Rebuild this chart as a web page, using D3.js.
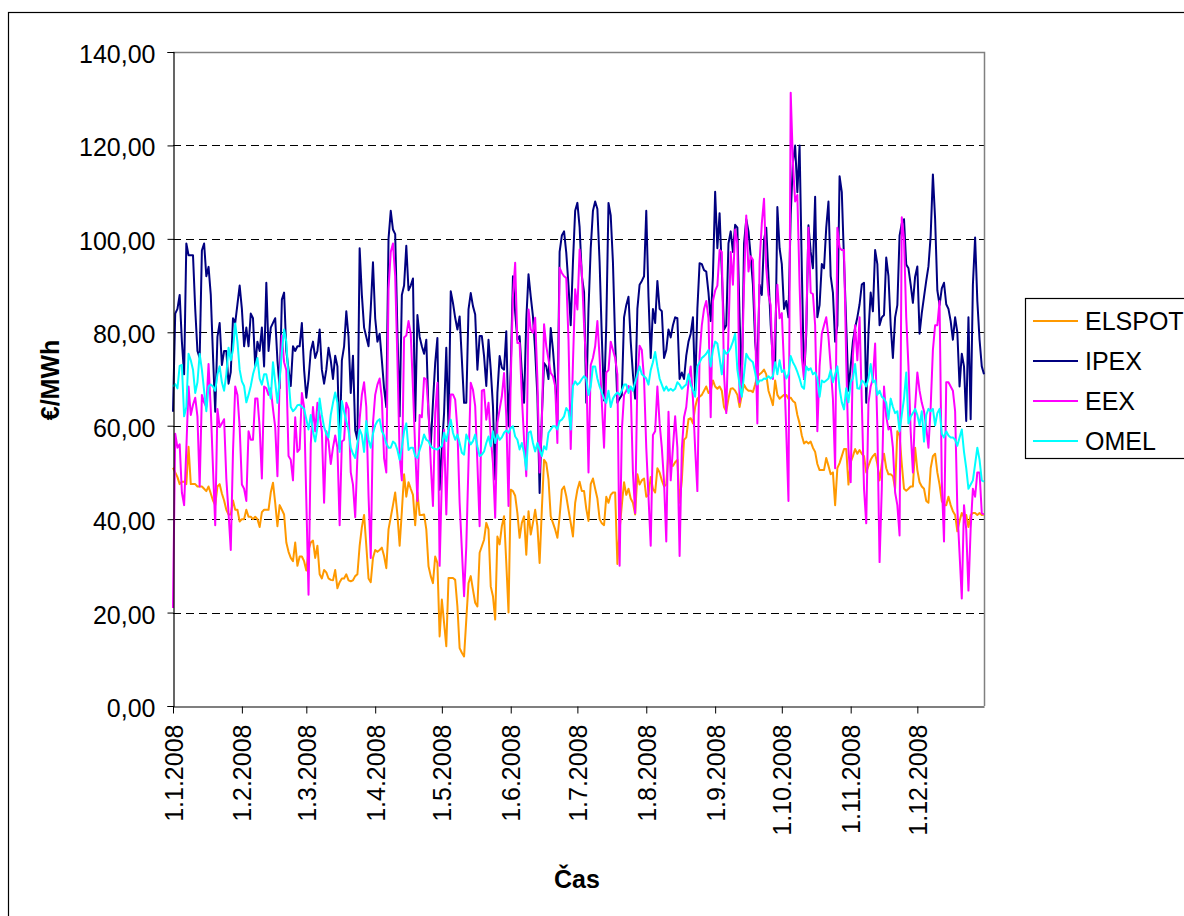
<!DOCTYPE html>
<html>
<head>
<meta charset="utf-8">
<script src="https://cdn.jsdelivr.net/npm/d3@7"></script>
<style>
  body { margin: 0; background: #fff; }
  svg text { font-family: "Liberation Sans", Arial, sans-serif; fill: #000; }
</style>
</head>
<body>
<svg id="chart" width="1184" height="916"></svg>
<script>
// Daily spot prices 2008 (EUR/MWh), one value per day from 1.1.2008 to 31.12.2008
const seriesNames = ["ELSPOT", "IPEX", "EEX", "OMEL"];
const seriesColors = ["#FF9900", "#000080", "#FF00FF", "#00FFFF"];
const yTickValues = [0, 20, 40, 60, 80, 100, 120, 140];
const monthTickLabels = ["1.1.2008", "1.2.2008", "1.3.2008", "1.4.2008", "1.5.2008", "1.6.2008",
  "1.7.2008", "1.8.2008", "1.9.2008", "1.10.2008", "1.11.2008", "1.12.2008"];

const elspot = [
  51, 50, 49, 47.5, 48, 48, 47.5, 55.5, 47.5, 47.5,
  47.5, 47, 47, 47, 46.5, 46, 47, 45.5, 44, 43,
  47, 47.5, 45.5, 44, 42, 41, 41, 44, 42, 42,
  39.5, 40, 40, 42, 40.5, 40.5, 40, 40.5, 40, 38.3,
  41.5, 42, 42, 42, 45.7, 47.8, 43.5, 38.5, 43, 42,
  41, 35, 33, 31.7, 31, 35, 30, 32, 32, 31,
  29, 33.4, 35, 35.4, 31.7, 34.3, 28.2, 27.3, 29.1, 28.6,
  27.3, 27, 26.9, 29.1, 25.2, 26.5, 27.3, 27.3, 28.2, 26.9,
  26.7, 26.9, 27.8, 28.2, 34.3, 38.3, 40.9, 34.3, 27.3, 26.5,
  31.7, 33.4, 33, 33.4, 33.9, 32.1, 29.5, 37.8, 40.4, 43,
  45.7, 40.9, 34.3, 41.7, 49.6, 44.8, 47.9, 46.5, 45.2, 38.7,
  45.7, 40.9, 40.9, 41, 37.8, 29.9, 27.8, 26.3, 32, 30.6,
  14.9, 22.8, 17.8, 12.8, 27.4, 27.4, 27.4, 27, 21.3, 12.4,
  11.4, 10.6, 18.5, 26.3, 27.8, 24.9, 22.1, 21.3, 32.8, 34.2,
  35.6, 39.2, 37.8, 25.6, 23.5, 18.5, 36.3, 34.6, 38.5, 40.6,
  30.6, 20, 46.3, 46, 45, 41.3, 36, 39.2, 40.6, 32.4,
  41.7, 36.7, 39.2, 42, 38.5, 30.6, 42, 52.7, 52, 48.5,
  40.6, 39.2, 37.8, 36, 40.6, 46.3, 47, 44.9, 42, 39.2,
  36.3, 43.5, 46.3, 48, 46, 46, 42.2, 39.6, 47.5, 48.7,
  46.5, 44.4, 40, 39.1, 38.7, 44.8, 43.5, 45.2, 45.7, 45.7,
  30.4, 37.8, 43, 47.9, 45.2, 46.5, 44.4, 43.5, 41, 49.6,
  47.4, 48.3, 48.7, 44.8, 45.2, 49, 46.5, 45.7, 50.9, 50,
  48.3, 47, 47.4, 54.4, 51.8, 51.4, 52.2, 52.7, 43.5, 48.3,
  57, 57.5, 61.4, 61.6, 60.5, 64, 65.8, 66.2, 66.6, 67.5,
  68.4, 67, 67.5, 69.7, 68.4, 67.9, 68.4, 67.5, 64, 63.1,
  65.8, 67.9, 68, 67.5, 66.6, 64, 66.6, 68.8, 67.9, 67.5,
  67.5, 67.2, 68.8, 70.6, 71, 71.4, 72, 71, 67.5, 66,
  64.4, 69.7, 66.6, 65.8, 66.2, 66.6, 66.6, 65.8, 66, 65.3,
  64.9, 62.3, 60.5, 57.9, 56.2, 56.6, 56.2, 56.6, 55.3, 54.4,
  51.8, 50.5, 50.5, 50.5, 53.1, 51.4, 49.6, 50, 43, 50.9,
  52, 53.5, 55, 55, 47.4, 52.2, 53.5, 55, 54, 54.8,
  54, 53.5, 50, 51.4, 52.7, 53.5, 54, 51.8, 48.3, 51.8,
  54, 50.9, 49.6, 49.6, 49.2, 46.5, 58.8, 57.9, 51.8, 46.5,
  46.1, 46.5, 47, 47, 55.3, 50.5, 47.9, 47, 46.5, 43.9,
  43.5, 50.9, 53.5, 54, 50, 47.4, 43.9, 43, 43, 44.8,
  43, 41.7, 40.9, 37.4, 39.6, 41.3, 40.4, 40.9, 38.3, 40.9,
  41.3, 41.3, 40.9, 41.3, 40.9, 41
];

const ipex = [
  63, 84, 85, 88, 78, 71, 99, 96.5, 96.5, 96.5,
  85, 76, 74.5, 97.5, 99, 92, 94, 88, 75, 63,
  79, 82, 73, 76, 76, 69, 71.5, 83, 82, 86,
  90, 85, 77, 81, 77, 84, 83, 72.7, 78, 76,
  81, 72.7, 90.6, 76, 81, 82, 83, 74, 68, 87,
  88.5, 76, 72, 68.5, 77, 76, 77, 77, 82, 72,
  66, 70, 76, 78, 74.5, 76, 80.6, 72, 69, 72,
  76.7, 74, 70, 75, 72.7, 55, 74, 77, 84.5, 79,
  67, 75, 59, 57, 98, 88, 81, 79, 77, 85,
  95, 83, 78, 79.7, 74, 68, 64, 100, 106, 102,
  101, 80, 62, 88, 90, 98.5, 89, 90, 91.5, 61,
  83.7, 79, 77, 75.4, 78.4, 62.7, 55.6, 65, 73.4, 78.8,
  46.3, 55, 62.7, 76.7, 59.2, 88.8, 86.3, 83.1, 80.6, 83.4,
  74.2, 64.9, 64.9, 84.9, 88.4, 85.6, 83.8, 72, 79.2, 79.2,
  74.9, 68.5, 78.4, 72, 64.2, 48.5, 67, 74.9, 72.4, 72,
  80.2, 59.9, 72, 92, 84.2, 78.4, 79.2, 71.3, 64.9, 82.7,
  92.4, 87.7, 83.4, 76, 66.3, 45.6, 62, 73.4, 72.7, 70,
  80.9, 76.3, 70, 60.5, 97.2, 100.7, 101.6, 97, 90, 81.5,
  95, 106, 107.7, 102.5, 92, 88.6, 64.9, 85, 98, 106,
  108, 106.4, 95, 78.9, 65.4, 81.5, 107.7, 105, 95, 78,
  64.9, 65.8, 66.6, 83.2, 85.8, 87.6, 78, 71, 65.8, 85,
  90.2, 91, 92, 106, 87.6, 74.5, 85, 82, 91, 85,
  84.5, 74.5, 76.2, 80.6, 78.9, 81.5, 83.2, 83, 70, 71.4,
  70, 75, 78, 79.7, 83.2, 67.5, 85, 94.8, 94.6, 93.3,
  93, 88.5, 82.4, 92, 110.1, 98, 105.5, 93, 80.6, 81.5,
  99, 101.6, 97.2, 103, 102.4, 83.2, 67.5, 99, 104.2, 101.6,
  96.3, 90.2, 78, 72.7, 90.2, 88, 99.8, 102.4, 92, 81.5,
  74, 72.7, 106.8, 98, 94.6, 85, 86.7, 83.2, 105, 116.4,
  120, 110, 120, 93.7, 70, 79.7, 102.9, 97.2, 93.7, 109,
  83.2, 85.8, 94.6, 93.7, 102.4, 108, 92, 88.5, 78, 81.5,
  113.4, 110, 95.4, 81.5, 67.5, 72.7, 78, 81, 83.2, 86,
  90.2, 90.6, 64.9, 80, 88.5, 84.5, 97.6, 94.6, 81.5, 83.2,
  83.7, 96, 92, 81.5, 74.5, 83.2, 85.8, 100.7, 103.3, 104.2,
  94.5, 93.7, 90.2, 86.3, 91.9, 94.1, 79.7, 84.1, 87.6, 91,
  94.1, 100.7, 113.8, 104.2, 89, 85.8, 89.4, 90.6, 86, 85,
  82.4, 78.4, 83.2, 80, 68.4, 75.4, 72.7, 61, 83.2, 61.4,
  90.2, 100.3, 86.7, 78.4, 72.7, 71
];

const eex = [
  21, 58.3, 55.3, 56, 45.7, 43, 55, 68.4, 62.3, 64.5,
  66, 62, 47, 66.6, 65, 64, 73.2, 63.6, 50.9, 38.7,
  63.6, 59.7, 60.5, 61.4, 48.7, 41.3, 33.4, 54.4, 68.4, 66.6,
  59.7, 47.4, 46.5, 43.9, 58.8, 57, 57, 65.8, 65.8, 59.7,
  48.7, 68.4, 68, 66.6, 68, 63.6, 59.7, 49.2, 70, 79.3,
  73.6, 71.9, 53.5, 52.7, 48.3, 61.8, 54.4, 55, 67, 64,
  44, 23.8, 56, 64, 58.8, 64.9, 62.3, 58.8, 43.5, 58.8,
  56.6, 51.8, 55.3, 57.9, 55.3, 38.7, 56.6, 57, 64.9, 63.6,
  50, 47.4, 40.4, 53.5, 61.4, 66.6, 69.3, 64, 45, 31.7,
  60.5, 66.6, 68.8, 70.1, 65.8, 53, 50, 89.3, 97.2, 99,
  92, 74, 53.5, 48.3, 78.9, 79.3, 82.4, 79.7, 68, 55,
  43.9, 62.3, 61.8, 70.2, 69.9, 63, 52, 42.8, 62.7, 69.2,
  30, 48.5, 59.2, 41, 57.7, 66.7, 66.7, 65.6, 59.2, 43.5,
  33.5, 23.5, 34.2, 52, 69.2, 67.7, 64.2, 52, 38.5, 67.5,
  67.7, 61.3, 64.9, 57.7, 52, 40.3, 60.6, 63.5, 66.3, 71.3,
  62, 42.8, 69.9, 87.7, 94.9, 77.7, 77.7, 66.3, 57, 49.2,
  84.9, 80.6, 79.9, 83.1, 70, 50, 60.6, 81.7, 77, 74.2,
  71.3, 70.6, 68.5, 56.3, 93.8, 92.7, 92, 91.6, 78.4, 55,
  73.4, 89.2, 84.9, 97.7, 93, 81.5, 72.7, 50, 73, 74.5,
  77, 82.4, 74.5, 65, 55.3, 71.4, 71.9, 78, 76.2, 74.5,
  71, 30, 59, 66.6, 67.5, 68.5, 67.5, 50, 41.3, 70,
  77.1, 76.2, 70, 55.3, 44.8, 34.3, 58, 58.8, 68.4, 60.5,
  55.3, 48, 35.2, 63, 48.3, 55.3, 62, 55.3, 32.1, 55,
  61.8, 64, 69.3, 72.7, 65.8, 55, 46, 75, 81.5, 85,
  86.7, 83, 61.8, 86.7, 88.9, 90, 97.6, 97.2, 71, 62.7,
  80, 97.2, 90.2, 102, 99, 65, 71, 90.2, 105, 93,
  96.3, 95.5, 81.5, 60.5, 95, 103.3, 108.6, 93.7, 88, 85.8,
  70, 81.5, 90.2, 83, 84.1, 72.7, 58.8, 43.9, 131.3, 116.4,
  108, 109.4, 90.2, 74.5, 70, 81.5, 102.4, 88.5, 88.2, 81.5,
  58.8, 72.7, 79.7, 81.5, 83.2, 79, 72.7, 65.8, 50.9, 102.4,
  98.1, 97.6, 97.6, 73.6, 55, 47.9, 75, 81.5, 74, 83.2,
  65, 46.5, 39.1, 64.9, 68.4, 70.1, 77.6, 59.7, 30.8, 46.5,
  68.4, 62, 59.2, 59.7, 55.3, 45.7, 43, 36.5, 104.6, 100,
  83.2, 72.7, 58.8, 50, 64, 71.4, 67.5, 64.9, 63.1, 59.7,
  55.3, 64, 76.2, 81.5, 81.5, 86.7, 48.3, 35.2, 69.3, 69.3,
  68.4, 67.5, 63.1, 42.2, 32.6, 23, 43, 37.8, 24.7, 38,
  46.5, 44.8, 50, 50, 41.3, 41
];

const omel = [
  68.4, 68.9, 68, 72.8, 73, 62, 64, 75.4, 74, 72,
  67, 69.3, 75.4, 72, 67.5, 63.1, 68.4, 68.8, 68.4, 67.5,
  71, 72.7, 69.3, 67.5, 71, 76.7, 74, 76.2, 81.9, 78,
  72, 69.5, 68.5, 65, 66.6, 68.5, 71, 72.7, 74.5, 70.1,
  68.8, 71, 71, 68.4, 65.8, 73.6, 69.3, 64.9, 69.7, 75.8,
  80.6, 78, 70.1, 64, 63.1, 63.6, 64.4, 64.5, 64, 63.6,
  61.4, 59.2, 62.3, 58.8, 56.6, 59.7, 65.8, 62.3, 59.7, 58.3,
  57.5, 62.3, 64.9, 67.1, 64.9, 54.4, 65.3, 63, 61, 59,
  55.3, 54, 53.1, 56.2, 59.2, 58, 54.4, 61, 57, 55.3,
  58.3, 60.1, 61, 61.4, 58.8, 57.9, 56.2, 55.3, 55.3, 56.6,
  56.2, 54.8, 52.7, 55.3, 58.8, 60.5, 54.8, 55.3, 55.3, 53.5,
  53.1, 54.8, 56.2, 58.1, 57, 56.7, 55.6, 55.2, 55, 54.9,
  55.3, 55.6, 58.5, 56.7, 59.2, 61.3, 58.5, 57, 58.1, 56.3,
  54.2, 53.8, 58.1, 57, 56, 56.7, 58.1, 55.6, 53.5, 53.8,
  54.5, 56.3, 57.7, 55.6, 58.8, 56.3, 58.1, 57, 57.5, 58.5,
  59, 58.5, 59.5, 59.9, 57.7, 57, 54.9, 56.3, 54.2, 50.6,
  58.5, 58.8, 56.3, 54.5, 56.3, 54.9, 53.5, 55.6, 54.9, 58.5,
  59.2, 59.9, 59.9, 59.2, 61, 61.3, 62, 63.8, 63.1, 59.2,
  68.5, 69.5, 68.8, 69.2, 70, 70.6, 70.1, 66.6, 68.4, 72.7,
  72.7, 70.1, 68.4, 67.1, 65.8, 64.9, 67.5, 64, 65.8, 66.6,
  67.1, 66.6, 67.5, 68.8, 68.8, 67, 68.4, 67.5, 69.3, 71,
  72.7, 71, 70.6, 70.1, 68.8, 71.9, 73.6, 75.8, 72.7, 70.1,
  68.8, 67.5, 68.4, 67.5, 67.9, 67.5, 67.9, 69.3, 68.8, 67.9,
  68.4, 68.8, 71, 68.8, 67.5, 66.2, 72.7, 73.6, 74.5, 74.9,
  75.4, 76.2, 72.7, 76.2, 78, 77.6, 74.5, 71, 76.2, 75.4,
  75.8, 76.7, 78, 79.7, 72, 68.8, 66.2, 71, 75.4, 74.5,
  74, 73.6, 71.4, 68.8, 69.7, 69.7, 70.1, 70, 70.6, 70.1,
  70.6, 73.6, 71, 74, 71.5, 71.9, 70.1, 71, 74.9, 73.6,
  72.7, 71.5, 70.1, 68.4, 67.9, 72.7, 71.9, 72.3, 71, 71.4,
  70.1, 66.2, 69.7, 69.3, 69.7, 70.1, 71.9, 69.3, 71, 72.7,
  68, 65, 63.5, 68, 65, 69.3, 70.1, 73.2, 68, 67.9,
  69.7, 69.3, 68.4, 70.1, 73.2, 69.3, 69.7, 66.6, 67.5, 66.2,
  65.8, 64.9, 61.4, 65.8, 64, 62.7, 63.1, 58.8, 62.3, 65.8,
  71.4, 60.5, 61.9, 62.7, 63.6, 62.3, 60.1, 63.1, 56.6, 62.3,
  63.6, 63.1, 63.6, 60.1, 62.7, 63.6, 58.3, 57.5, 58.8, 57.9,
  57.5, 57.5, 57, 55.7, 57.5, 59.2, 54.4, 50.9, 46.5, 47.4,
  48.3, 51.8, 55.3, 52.7, 48.3, 48
];

const seriesValues = [elspot, ipex, eex, omel];

// ---- layout ----
const plot = { left: 173, top: 52, right: 984, bottom: 706 };
const svg = d3.select("#chart");
const fontSize = 25;

const firstDay = new Date(2008, 0, 1);
const lastDay = new Date(2008, 11, 31);
const days = d3.timeDay.range(firstDay, d3.timeDay.offset(lastDay, 1));

const x = d3.scaleTime().domain([firstDay, lastDay]).range([plot.left, plot.right]);
const y = d3.scaleLinear().domain([0, 140]).range([plot.bottom, plot.top]);

const parseLabel = d3.timeParse("%d.%m.%Y");
const monthTicks = monthTickLabels.map(parseLabel);

const czLocale = d3.formatLocale({ decimal: ",", thousands: " ", grouping: [3], currency: ["", " €"] });
const fmtY = czLocale.format(".2f");

// outer chart border
svg.append("rect")
  .attr("x", 8.5).attr("y", 12.5)
  .attr("width", 1300).attr("height", 1000)
  .attr("fill", "none").attr("stroke", "#000").attr("stroke-width", 1.2);

// dashed horizontal gridlines
svg.append("g").selectAll("line")
  .data(yTickValues.filter(v => v > 0 && v < 140))
  .join("line")
  .attr("x1", plot.left).attr("x2", plot.right)
  .attr("y1", d => Math.round(y(d)) + 0.5).attr("y2", d => Math.round(y(d)) + 0.5)
  .attr("stroke", "#000").attr("stroke-width", 1)
  .attr("stroke-dasharray", "8,5");

// plot area frame (top and right)
svg.append("path")
  .attr("d", `M${plot.left},${plot.top + 0.5}H${plot.right + 0.5}V${plot.bottom}`)
  .attr("fill", "none").attr("stroke", "#808080").attr("stroke-width", 1.5);

// series lines (later series drawn on top)
const line = d3.line()
  .x((d, i) => x(days[i]))
  .y(d => y(d));

svg.append("g").selectAll("path")
  .data(seriesValues)
  .join("path")
  .attr("d", d => line(d))
  .attr("fill", "none")
  .attr("stroke", (d, i) => seriesColors[i])
  .attr("stroke-width", 2)
  .attr("stroke-linejoin", "round");

// y axis
const yAxis = svg.append("g")
  .attr("transform", `translate(${plot.left + 0.5},0)`)
  .call(d3.axisLeft(y).tickValues(yTickValues).tickFormat(fmtY).tickSize(6).tickPadding(12));
yAxis.select(".domain").attr("stroke", "#000").attr("stroke-width", 1.2);
yAxis.selectAll(".tick line").attr("stroke", "#000");
yAxis.selectAll("text")
  .attr("font-size", fontSize)
  .attr("font-family", '"Liberation Sans", Arial, sans-serif')
  .attr("dy", "0.42em");

// x axis
const xAxis = svg.append("g")
  .attr("transform", `translate(0,${plot.bottom + 0.5})`)
  .call(d3.axisBottom(x).tickValues(monthTicks)
    .tickFormat((d, i) => monthTickLabels[i]).tickSize(7).tickSizeOuter(0));
xAxis.select(".domain").attr("stroke", "#000").attr("stroke-width", 1.2);
xAxis.selectAll(".tick line").attr("stroke", "#000");
xAxis.selectAll("text")
  .attr("font-size", fontSize)
  .attr("font-family", '"Liberation Sans", Arial, sans-serif')
  .attr("transform", "rotate(-90)")
  .attr("x", -18).attr("y", 0)
  .attr("dy", "0.36em")
  .style("text-anchor", "end");

// axis titles
svg.append("text")
  .attr("x", 577).attr("y", 888)
  .attr("text-anchor", "middle")
  .attr("font-size", fontSize).attr("font-weight", "bold")
  .text("Čas");

svg.append("text")
  .attr("transform", "translate(59,380) rotate(-90)")
  .attr("text-anchor", "middle")
  .attr("font-size", fontSize).attr("font-weight", "bold")
  .text("€/MWh");

// legend
const legend = svg.append("g");
legend.append("rect")
  .attr("x", 1025.5).attr("y", 298.5)
  .attr("width", 220).attr("height", 160)
  .attr("fill", "#fff").attr("stroke", "#000").attr("stroke-width", 1.2);

const legendRows = legend.selectAll("g.item")
  .data(seriesNames)
  .join("g")
  .attr("class", "item")
  .attr("transform", (d, i) => `translate(0,${321 + i * 40})`);

legendRows.append("line")
  .attr("x1", 1033).attr("x2", 1078)
  .attr("y1", 0).attr("y2", 0)
  .attr("stroke", (d, i) => seriesColors[i])
  .attr("stroke-width", 2);

legendRows.append("text")
  .attr("x", 1085).attr("y", 0)
  .attr("dy", "0.36em")
  .attr("font-size", fontSize)
  .text(d => d);
</script>
</body>
</html>
